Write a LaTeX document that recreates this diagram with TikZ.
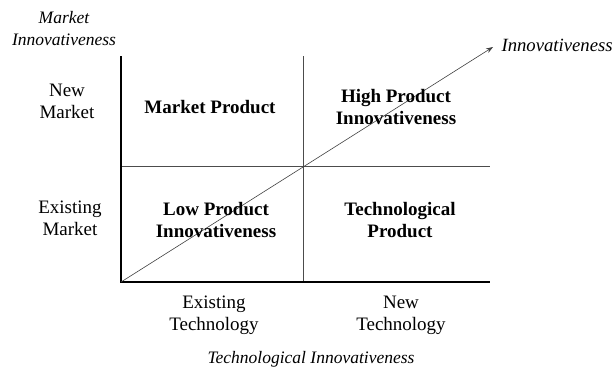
\documentclass[tikz,border=0pt]{standalone}
\usepackage{fontspec}
\setmainfont{Liberation Serif}
\usepackage{xcolor}
\usetikzlibrary{arrows.meta}

\begin{document}
\begin{tikzpicture}[x=1pt,y=-1pt]
		\tikzset{cell/.style={font=\fontsize{19}{22}\selectfont\bfseries,align=center},
		         level/.style={font=\fontsize{19}{22}\selectfont,align=center},
		         axislabel/.style={font=\fontsize{17.5}{22}\selectfont\itshape,align=center},
		         axis/.style={line width=1.6pt,black},
		         grid line/.style={line width=0.6pt,color=black!70}};
		\useasboundingbox (0,0) rectangle (612,369);
		% axes and the dividing lines
		\coordinate (o) at (121,282);
		\coordinate (top) at (121,56);
		\coordinate (end) at (490,282);
		\coordinate (midtop) at (303,56);
		\coordinate (midbot) at (303,282);
		\coordinate (midleft) at (121,166);
		\coordinate (midright) at (490,166);
		\coordinate (tip) at (493,47);
		\draw[grid line] (midtop) -- (midbot);
		\draw[grid line] (midleft) -- (midright);
		\draw[axis] (top) -- (o) -- (end);
		\draw[line width=0.6pt,color=black!75,-{Stealth[length=7pt,width=5pt]}] (o) -- (tip);
		
		\node[axislabel] (mkt) at (64,29) {Market\\Innovativeness};
		\node[axislabel,font=\fontsize{18.7}{22}\selectfont\itshape,anchor=west] (inno) at (498,45) {Innovativeness};
		\node[axislabel] (tech) at (311,359) {Technological Innovativeness};
		
		\node[level] (newmkt) at (67,101) {New\\Market};
		\node[level] (oldmkt) at (70,218) {Existing\\Market};
		\node[level] (oldtech) at (214,315) {Existing\\Technology};
		\node[level] (newtech) at (401,315) {New\\Technology};
		
		\node[cell] (mp) at (210,107) {Market Product};
		\node[cell] (hpi) at (396,107) {High Product\\Innovativeness};
		\node[cell] (lpi) at (216,220) {Low Product\\Innovativeness};
		\node[cell] (tp) at (400,220) {Technological\\Product};
\end{tikzpicture}
\end{document}
